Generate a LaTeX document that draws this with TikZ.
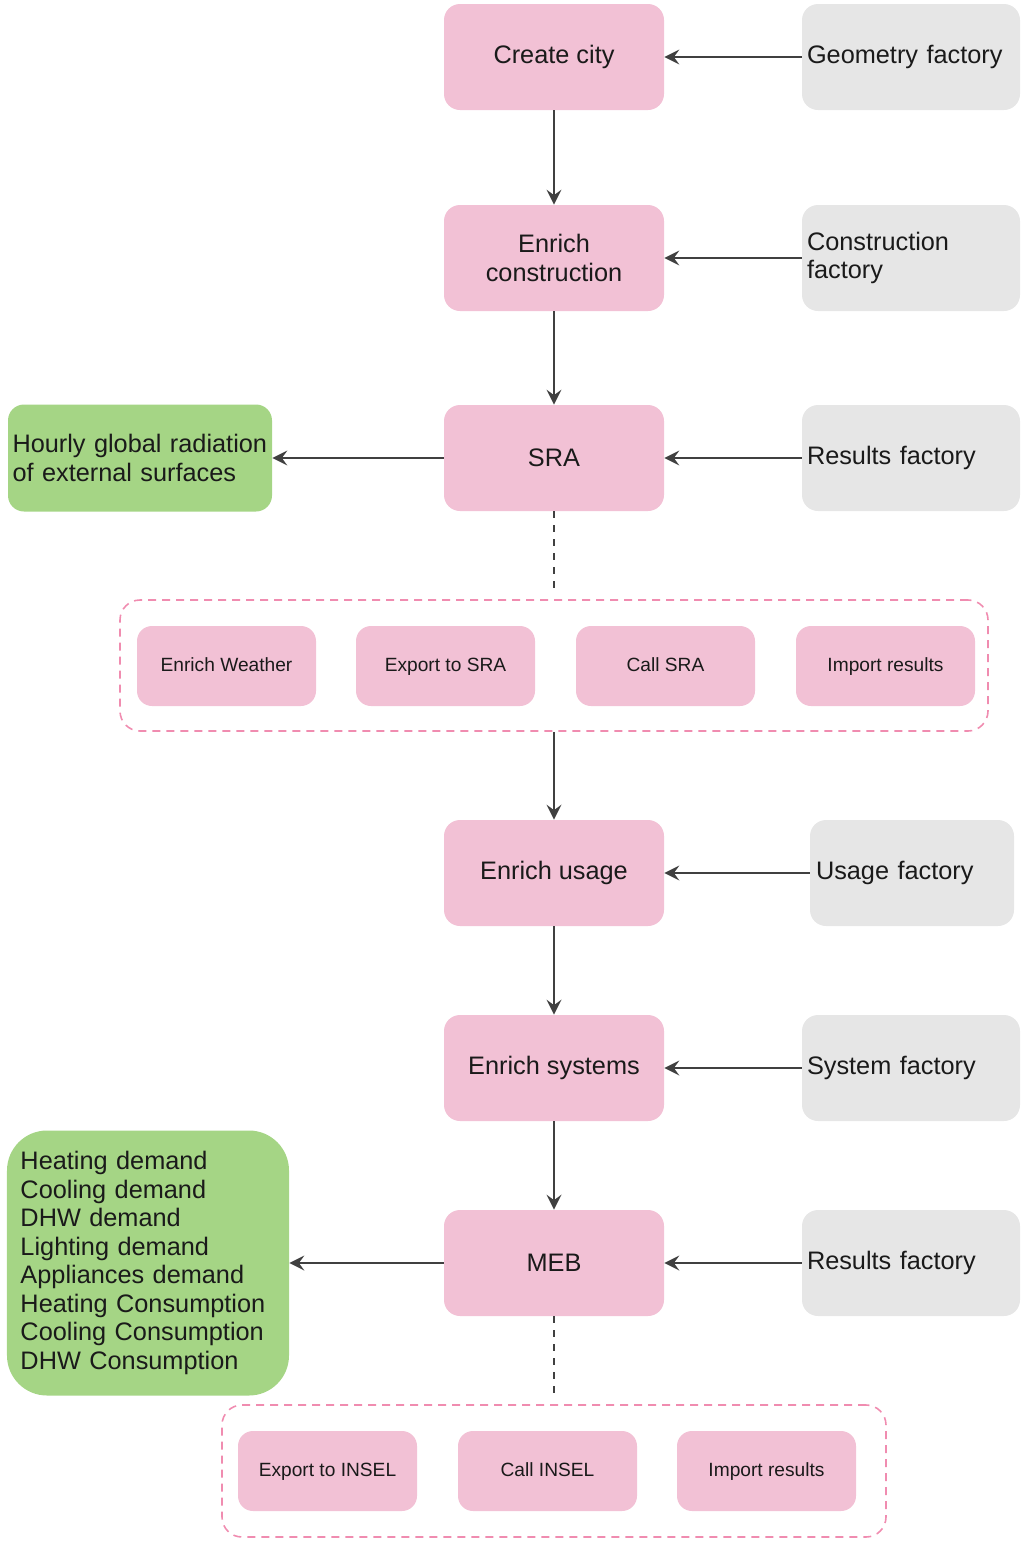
\documentclass[tikz,border=0pt]{standalone}
\usepackage{fontspec}
\setmainfont{Liberation Sans}
\usepackage{tikz}
\usetikzlibrary{positioning,arrows.meta}
\definecolor{rosa}{HTML}{F2C1D5}
\definecolor{cinza}{HTML}{E6E6E6}
\definecolor{verde}{HTML}{A5D585}
\definecolor{traco}{HTML}{F08CB0}
\definecolor{seta}{HTML}{404040}
\definecolor{texto}{HTML}{1A1A1A}
\hyphenpenalty=10000

\begin{document}
\begin{tikzpicture}[x=1cm,y=1cm, font=\fontsize{14.4}{16.2}\selectfont, text=texto,
    main/.style={fill=rosa, rounded corners=0.32cm, minimum width=4.4cm, minimum height=2.12cm, align=center},
    fact/.style={fill=cinza, rounded corners=0.32cm, minimum width=#1, minimum height=2.12cm, text width=#1-0.2cm, inner xsep=0.1cm, align=left},
    outp/.style={fill=verde, rounded corners=#1, align=left},
    sub/.style={fill=rosa, rounded corners=0.3cm, minimum width=3.58cm, minimum height=1.6cm, text height=1.6ex, text depth=0.4ex, font=\fontsize{10.9}{13}\selectfont},
    grp/.style={draw=traco, line width=0.9pt, dash pattern=on 0.16cm off 0.12cm, rounded corners=0.4cm},
    flow/.style={-{Stealth[length=3mm,width=3mm,inset=1.1mm]}, line width=1.1pt, seta},
    link/.style={line width=1.1pt, seta, dash pattern=on 0.14cm off 0.14cm}]
  \useasboundingbox (0,0) rectangle (20.4,-31.02);
  % main flow
  \node[main] (city) at (11.08,-1.14) {Create city};
  \node[main] (constr) at (11.08,-5.16) {Enrich\\construction};
  \node[main] (sra) at (11.08,-9.16) {SRA};
  \node[main] (usage) at (11.08,-17.46) {Enrich usage};
  \node[main] (systems) at (11.08,-21.36) {Enrich systems};
  \node[main] (meb) at (11.08,-25.26) {MEB};
  % factories
  \node[fact=4.36cm] (fgeom) at (18.22,-1.14) {Geometry factory};
  \node[fact=4.36cm] (fconstr) at (18.22,-5.16) {Construction\\factory};
  \node[fact=4.36cm] (fres1) at (18.22,-9.16) {Results factory};
  \node[fact=4.04cm, inner xsep=0.12cm] (fusage) at (18.24,-17.46) {Usage factory};
  \node[fact=4.36cm] (fsys) at (18.22,-21.36) {System factory};
  \node[fact=4.36cm] (fres2) at (18.22,-25.26) {Results factory};
  % outputs
  \node[outp=0.32cm, minimum width=5.28cm, minimum height=2.14cm, text width=5.1cm, inner xsep=0.09cm] (rad) at (2.8,-9.16) {Hourly global radiation\\of external surfaces};
  \node[outp=0.8cm, minimum width=5.64cm, minimum height=5.3cm, text width=5.1cm, inner xsep=0.27cm] (dem) at (2.96,-25.26)
    {Heating demand\\Cooling demand\\DHW demand\\Lighting demand\\Appliances demand\\Heating Consumption\\Cooling Consumption\\DHW Consumption};
  % SRA steps
  \node[grp, minimum width=17.36cm, minimum height=2.62cm] (gsra) at (11.08,-13.31) {};
  \foreach \n/\t/\x in {w/Enrich Weather/4.53, e/Export to SRA/8.91, c/Call SRA/13.31, i/Import results/17.71}{
    \node[sub] (s\n) at (\x,-13.32) {\t};
  }
  % MEB steps
  \node[grp, minimum width=13.28cm, minimum height=2.64cm] (gmeb) at (11.08,-29.42) {};
  \foreach \n/\t/\x in {e/Export to INSEL/6.55, c/Call INSEL/10.95, i/Import results/15.33}{
    \node[sub] (m\n) at (\x,-29.42) {\t};
  }
  % connectors
  \draw[flow] (city) -- (constr);
  \draw[flow] (constr) -- (sra);
  \draw[link, shorten >=0.2cm] (sra) -- (gsra);
  \draw[flow] (gsra) -- (usage);
  \draw[flow] (usage) -- (systems);
  \draw[flow] (systems) -- (meb);
  \draw[link, shorten >=0.2cm] (meb) -- (gmeb);
  \draw[flow] (fgeom) -- (city);
  \draw[flow] (fconstr.west) -- (constr.east);
  \draw[flow] (fres1) -- (sra);
  \draw[flow] (fusage) -- (usage);
  \draw[flow] (fsys) -- (systems);
  \draw[flow] (fres2) -- (meb);
  \draw[flow] (sra) -- (rad);
  \draw[flow] (meb) -- (dem);
\end{tikzpicture}
\end{document}
